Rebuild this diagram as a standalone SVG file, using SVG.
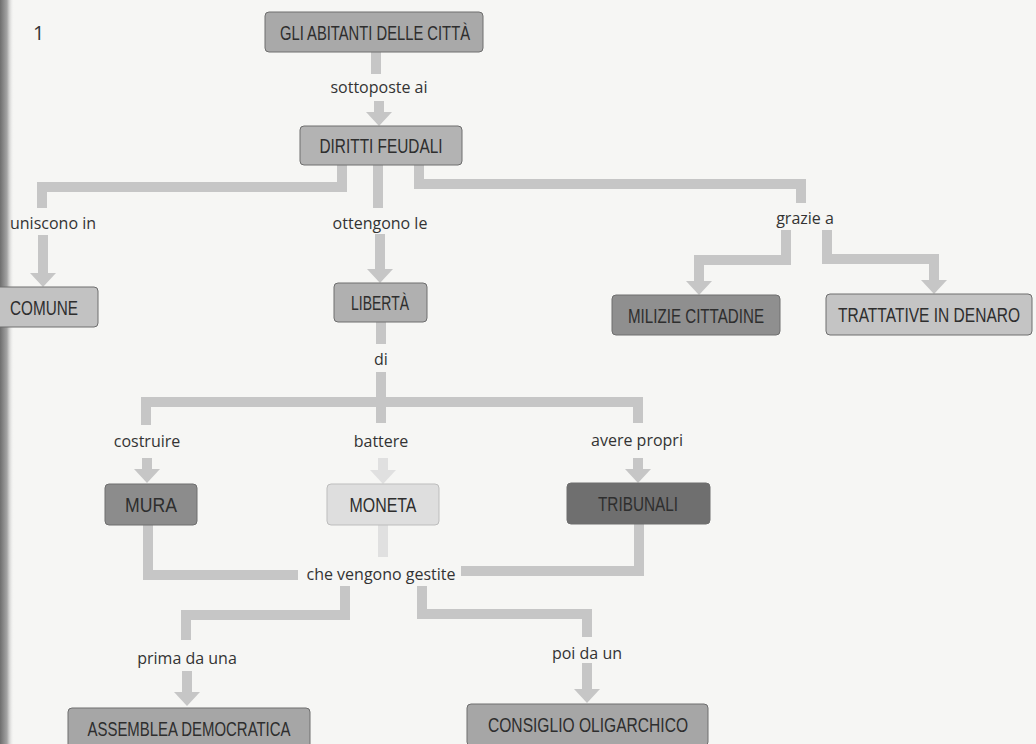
<svg xmlns="http://www.w3.org/2000/svg" width="1036" height="744" viewBox="0 0 1036 744">
  <defs>
    <linearGradient id="bind" x1="0" y1="0" x2="1" y2="0">
      <stop offset="0" stop-color="#6e6e6e"/>
      <stop offset="0.5" stop-color="#a4a4a4"/>
      <stop offset="1" stop-color="#f6f6f4" stop-opacity="0"/>
    </linearGradient>
    <marker id="ah" markerUnits="userSpaceOnUse" markerWidth="16" markerHeight="28" refX="0" refY="14" orient="auto">
      <path d="M0,1 L14,14 L0,27 Z" fill="#c6c6c6"/>
    </marker>
    <marker id="ahl" markerUnits="userSpaceOnUse" markerWidth="16" markerHeight="28" refX="0" refY="14" orient="auto">
      <path d="M0,1 L14,14 L0,27 Z" fill="#e0e0e0"/>
    </marker>
    <style>
      .c { fill: none; stroke: #c6c6c6; stroke-width: 10; stroke-linejoin: miter; stroke-linecap: butt; }
      .cl { fill: none; stroke: #e0e0e0; stroke-width: 10; stroke-linejoin: miter; }
      .box { stroke: #6e6e6e; stroke-width: 1; }
      .bt { font-family: "Liberation Sans", Arial, sans-serif; font-size: 21px; fill: #2e2e2e; text-anchor: middle; }
      .lb { font-family: "Open Sans", "Noto Sans", sans-serif; font-size: 16px; fill: #333333; text-anchor: middle; }
    </style>
  </defs>

  <rect x="0" y="0" width="1036" height="744" fill="#f6f6f4"/>
  <rect x="0" y="0" width="14" height="744" fill="url(#bind)"/>

  <text x="33" y="40" font-family="Open Sans, sans-serif" font-size="20" fill="#333">1</text>

  <g id="connectors">
    <path class="c" d="M376,52 V74"/>
    <path class="c" d="M379,101 V112" marker-end="url(#ah)"/>
    <path class="c" d="M342,165 V187 H42 V208"/>
    <path class="c" d="M43,235 V273" marker-end="url(#ah)"/>
    <path class="c" d="M378,165 V208"/>
    <path class="c" d="M380,234 V269" marker-end="url(#ah)"/>
    <path class="c" d="M419,165 V184 H801 V203"/>
    <path class="c" d="M786,230 V260 H699 V281" marker-end="url(#ah)"/>
    <path class="c" d="M827,230 V259 H934 V280" marker-end="url(#ah)"/>
    <path class="c" d="M381,322 V344"/>
    <path class="c" d="M381,372 V423"/>
    <path class="c" d="M146,425 V402 H638 V423"/>
    <path class="c" d="M147,458 V469" marker-end="url(#ah)"/>
    <path class="cl" d="M383,458 V470" marker-end="url(#ahl)"/>
    <path class="c" d="M638,458 V469" marker-end="url(#ah)"/>
    <path class="c" d="M148,525 V575 H298"/>
    <path class="c" d="M639,524 V571 H461"/>
    <path class="cl" d="M383,525 V557"/>
    <path class="c" d="M345,586 V615 H186 V640"/>
    <path class="c" d="M422,586 V614 H587 V637"/>
    <path class="c" d="M187,671 V692" marker-end="url(#ah)"/>
    <path class="c" d="M587,663 V689" marker-end="url(#ah)"/>
  </g>

  <g id="labels">
    <text class="lb" x="379" y="93">sottoposte ai</text>
    <text class="lb" x="53" y="229">uniscono in</text>
    <text class="lb" x="380" y="229">ottengono le</text>
    <text class="lb" x="805" y="224">grazie a</text>
    <text class="lb" x="381" y="365">di</text>
    <text class="lb" x="147" y="447">costruire</text>
    <text class="lb" x="381" y="447">battere</text>
    <text class="lb" x="637" y="446">avere propri</text>
    <text class="lb" x="381" y="580">che vengono gestite</text>
    <text class="lb" x="187" y="664">prima da una</text>
    <text class="lb" x="587" y="659">poi da un</text>
  </g>

  <g id="abitanti">
    <rect class="box" x="265" y="12" width="218" height="40" rx="4" fill="#a9a9a9"/>
    <text class="bt" x="375" y="40" textLength="190" lengthAdjust="spacingAndGlyphs">GLI ABITANTI DELLE CITTÀ</text>
  </g>
  <g id="diritti">
    <rect class="box" x="300" y="126" width="162" height="39" rx="4" fill="#b3b3b3"/>
    <text class="bt" x="381" y="153" textLength="123" lengthAdjust="spacingAndGlyphs">DIRITTI FEUDALI</text>
  </g>
  <g id="comune">
    <rect class="box" x="-6" y="287" width="104" height="40" rx="4" fill="#c2c2c2"/>
    <text class="bt" x="44" y="315" textLength="68" lengthAdjust="spacingAndGlyphs">COMUNE</text>
  </g>
  <g id="liberta">
    <rect class="box" x="334" y="283" width="93" height="39" rx="4" fill="#b0b0b0"/>
    <text class="bt" x="380" y="310" textLength="58" lengthAdjust="spacingAndGlyphs">LIBERTÀ</text>
  </g>
  <g id="milizie">
    <rect class="box" x="612" y="295" width="168" height="40" rx="4" fill="#8f8f8f"/>
    <text class="bt" x="696" y="323" textLength="136" lengthAdjust="spacingAndGlyphs">MILIZIE CITTADINE</text>
  </g>
  <g id="trattative">
    <rect class="box" x="826" y="294" width="206" height="41" rx="4" fill="#c4c4c4"/>
    <g transform="translate(929,322) scale(0.74,1)">
      <text class="bt" x="0" y="0">TRATTATIVE IN DENARO</text>
    </g>
  </g>
  <g id="mura">
    <rect class="box" x="105" y="484" width="92" height="41" rx="4" fill="#8c8c8c"/>
    <text class="bt" x="151" y="512" textLength="52" lengthAdjust="spacingAndGlyphs">MURA</text>
  </g>
  <g id="moneta">
    <rect x="327" y="484" width="112" height="41" rx="4" fill="#dedede" stroke="#bdbdbd" stroke-width="1"/>
    <text class="bt" x="383" y="512" textLength="67" lengthAdjust="spacingAndGlyphs">MONETA</text>
  </g>
  <g id="tribunali">
    <rect class="box" x="567" y="483" width="143" height="41" rx="4" fill="#6f6f6f"/>
    <text class="bt" x="638" y="511" textLength="80" lengthAdjust="spacingAndGlyphs">TRIBUNALI</text>
  </g>
  <g id="assemblea">
    <rect class="box" x="68" y="708" width="242" height="44" rx="4" fill="#a6a6a6"/>
    <text class="bt" x="189" y="736" textLength="203" lengthAdjust="spacingAndGlyphs">ASSEMBLEA DEMOCRATICA</text>
  </g>
  <g id="consiglio">
    <rect class="box" x="467" y="704" width="241" height="42" rx="4" fill="#a6a6a6"/>
    <text class="bt" x="588" y="732" textLength="200" lengthAdjust="spacingAndGlyphs">CONSIGLIO OLIGARCHICO</text>
  </g>
</svg>
